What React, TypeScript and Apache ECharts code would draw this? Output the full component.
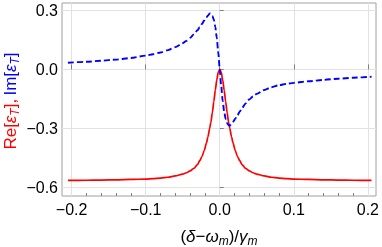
import React, { useEffect, useRef } from "react";
import * as echarts from "echarts";

// detuning (δ−ω_m)/γ_m
const X = [
  -0.205, -0.18, -0.16, -0.14, -0.12, -0.1, -0.09, -0.08, -0.07, -0.06, -0.05, -0.045, -0.04, -0.035,
  -0.03, -0.027, -0.024, -0.021, -0.018, -0.016, -0.0135, -0.012, -0.01, -0.008, -0.006, -0.004, -0.002, 0,
  0.002, 0.004, 0.006, 0.008, 0.01, 0.012, 0.0135, 0.016, 0.018, 0.021, 0.024, 0.027, 0.03, 0.035,
  0.04, 0.045, 0.05, 0.06, 0.07, 0.08, 0.09, 0.1, 0.12, 0.14, 0.16, 0.18, 0.205,
];
// Re[ε_T]
const RE = [
  -0.563, -0.562, -0.561, -0.56, -0.558, -0.556, -0.554, -0.551, -0.547, -0.54, -0.531, -0.524, -0.515, -0.502,
  -0.483, -0.463, -0.442, -0.412, -0.374, -0.343, -0.298, -0.268, -0.22, -0.163, -0.106, -0.053, -0.014, 0.0,
  -0.014, -0.053, -0.106, -0.163, -0.22, -0.268, -0.298, -0.343, -0.374, -0.412, -0.442, -0.463, -0.483, -0.502,
  -0.515, -0.524, -0.531, -0.54, -0.547, -0.551, -0.554, -0.556, -0.558, -0.56, -0.561, -0.562, -0.563,
];
// Im[ε_T]
const IM = [
  0.034, 0.039, 0.044, 0.05, 0.058, 0.07, 0.077, 0.086, 0.098, 0.113, 0.133, 0.145, 0.16, 0.178,
  0.199, 0.214, 0.231, 0.248, 0.264, 0.273, 0.284, 0.282, 0.272, 0.252, 0.216, 0.16, 0.085, 0.0,
  -0.085, -0.16, -0.215, -0.252, -0.272, -0.283, -0.285, -0.276, -0.266, -0.25, -0.232, -0.214, -0.196, -0.172,
  -0.152, -0.137, -0.124, -0.104, -0.09, -0.08, -0.073, -0.068, -0.06, -0.053, -0.047, -0.042, -0.037,
];

const X_TICKS = [-0.2, -0.1, 0, 0.1, 0.2];
const X_MINOR = [-0.18, -0.16, -0.14, -0.12, -0.08, -0.06, -0.04, -0.02, 0.02, 0.04, 0.06, 0.08, 0.12, 0.14, 0.16, 0.18];
const Y_TICKS = [-0.6, -0.3, 0, 0.3];

const FONT = "'Liberation Sans', Arial, sans-serif";
const fmt = (v: number) => (v < -1e-9 ? "\u2212" : "") + Math.abs(v).toFixed(1);

export default function App() {
  const ref = useRef<HTMLDivElement>(null);
  useEffect(() => {
    const chart = echarts.init(ref.current!, null, { renderer: "svg" });
    const main = { fontFamily: FONT, fontSize: 17, lineHeight: 21 };
    const sub = { fontFamily: FONT, fontSize: 12, lineHeight: 13, verticalAlign: "bottom", fontStyle: "italic" };
    chart.setOption({
      animation: false,
      grid: { left: 62, right: 6, top: 3, bottom: 51, show: true, borderColor: "#a0a0a0", borderWidth: 1, backgroundColor: "transparent" },
      xAxis: [
        {
          type: "value", min: -0.213, max: 0.211, position: "bottom",
          axisLine: { show: false },
          axisTick: { show: true, inside: true, length: 5, customValues: X_TICKS, lineStyle: { color: "#808080" } },
          axisLabel: { customValues: X_TICKS, formatter: fmt, color: "#000", fontSize: 16, fontFamily: FONT, margin: 5 },
          splitLine: { show: true, lineStyle: { color: "#e2e2e2", width: 1 } },
        },
        {
          type: "value", min: -0.213, max: 0.211, position: "bottom", offset: 0,
          axisLine: { show: false },
          axisTick: { show: true, inside: true, length: 3, customValues: X_MINOR, lineStyle: { color: "#808080" } },
          axisLabel: { show: false },
          splitLine: { show: false },
        },
      ],
      yAxis: {
        type: "value", min: -0.642, max: 0.337,
        axisLine: { show: false },
        axisTick: { show: true, inside: true, length: 4, customValues: Y_TICKS, lineStyle: { color: "#808080" } },
        axisLabel: { customValues: Y_TICKS, formatter: fmt, color: "#000", fontSize: 16, fontFamily: FONT, margin: 4 },
        splitLine: { show: true, lineStyle: { color: "#e2e2e2", width: 1 } },
      },
      series: [
        {
          type: "line", xAxisIndex: 0, yAxisIndex: 0, showSymbol: false, smooth: 0.25, smoothMonotone: "x",
          data: X.map((x, i) => [x, RE[i]]),
          lineStyle: { color: "#ff0000", width: 1.7 }, z: 3,
        },
        {
          type: "line", xAxisIndex: 0, yAxisIndex: 0, showSymbol: false, smooth: 0.25, smoothMonotone: "x",
          data: X.map((x, i) => [x, IM[i]]),
          lineStyle: { color: "#0000ff", width: 1.9, type: [6, 3] }, z: 4,
        },
      ],
      graphic: [
        {
          type: "text", x: 10, y: 101, rotation: Math.PI / 2,
          style: {
            text: "{r|Re[}{ri|ε}{rs|T}{r|],} {b|Im[}{bi|ε}{bs|T}{b|]}",
            align: "center", verticalAlign: "middle",
            rich: {
              r: { ...main, fill: "#ff0000" },
              ri: { ...main, fill: "#ff0000", fontStyle: "italic" },
              rs: { ...sub, fill: "#ff0000" },
              b: { ...main, fill: "#0000ff" },
              bi: { ...main, fill: "#0000ff", fontStyle: "italic" },
              bs: { ...sub, fill: "#0000ff" },
            },
          },
        },
        {
          type: "text", x: 219, y: 236,
          style: {
            text: "{n|(}{i|δ}{n|\u2212}{i|ω}{s|m}{n|)/}{i|γ}{s|m}",
            align: "center", verticalAlign: "middle",
            rich: {
              n: { ...main, fill: "#000" },
              i: { ...main, fill: "#000", fontStyle: "italic" },
              s: { ...sub, fill: "#000" },
            },
          },
        },
      ],
    });
    return () => chart.dispose();
  }, []);
  return <div ref={ref} style={{ position: "fixed", left: 0, top: 0, width: 382, height: 247 }} />;
}
